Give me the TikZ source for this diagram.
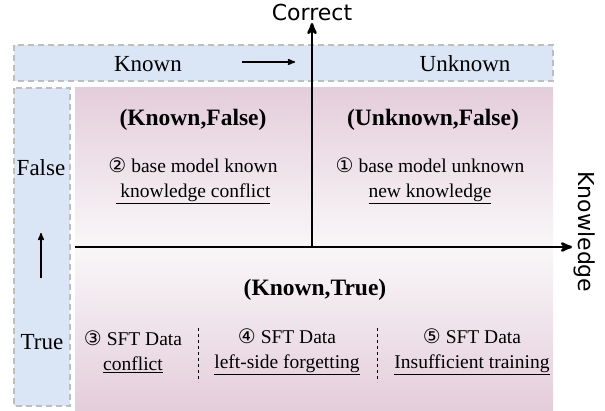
\documentclass[tikz,border=0pt]{standalone}
\usepackage{fontspec}
\setmainfont{Liberation Serif}
\newfontfamily\axisfont{DejaVu Sans}
\newfontfamily\circfont{DejaVu Sans}
\usepackage{tikz}
\usetikzlibrary{arrows}
\usetikzlibrary{positioning}
\usetikzlibrary{calc}
\definecolor{bandblue}{RGB}{218,230,245}
\definecolor{bandgray}{RGB}{190,190,190}
\definecolor{quadpink}{RGB}{228,205,219}
\definecolor{quadwhite}{RGB}{249,247,248}
\newcommand{\circnum}[1]{{\circfont\fontsize{20}{22}\selectfont #1}}

\begin{document}
\begin{tikzpicture}[x=1pt,y=-1pt,>=stealth',
    band/.style={draw=bandgray,fill=bandblue,line width=2.2pt,dash pattern=on 6pt off 4pt},
    axis/.style={->,line width=2.6pt},
    small arrow/.style={->,line width=1.5pt},
    sep/.style={line width=0.9pt,dash pattern=on 3pt off 3pt},
    big label/.style={font=\fontsize{23}{26}\selectfont,inner sep=0pt},
    head label/.style={font=\fontsize{23.5}{26}\selectfont\bfseries,inner sep=0pt},
    desc/.style={font=\fontsize{19.5}{25}\selectfont,align=center,inner sep=0pt},
    axis label/.style={font=\axisfont\fontsize{22}{24}\selectfont,inner sep=0pt}]

  \useasboundingbox (0,0) rectangle (605,410);

  % bands and quadrants
  \draw[band] (14,45) rectangle (553,81);
  \draw[band] (14,88) rectangle (70,406);
  \shade[top color=quadpink,bottom color=quadwhite] (75,87) rectangle (553,247);
  \shade[top color=quadwhite,bottom color=quadpink] (75,247) rectangle (553,410);

  % axes
  \coordinate (origin) at (312,247);
  \coordinate (x start) at (75,247);
  \coordinate (x end) at (572,247);
  \coordinate (y end) at (312,23);
  \draw[axis] (x start) -- (x end);
  \draw[axis] (origin) -- (y end);
  \node[axis label] (correct) at (312,12) {Correct};
  \node[axis label,rotate=-90] (knowledge) at (585,232) {Knowledge};

  % band labels
  \node[big label] (known) at (148,64) {Known};
  \node[big label] (unknown) at (465,64) {Unknown};
  \node[big label] (false) at (41,168) {False};
  \node[big label] (true) at (42,342) {True};
  \coordinate (k from) at (242,62);
  \coordinate (k to) at (295,62);
  \coordinate (t from) at (41,278);
  \coordinate (t to) at (41,233);
  \draw[small arrow] (k from) -- (k to);
  \draw[small arrow] (t from) -- (t to);

  % quadrant titles
  \node[head label] (kf) at (193,120) {(Known,False)};
  \node[head label] (uf) at (433,120) {(Unknown,False)};
  \node[head label] (kt) at (315,290) {(Known,True)};

  \node[desc] (base known) at (193,181) {\circnum{②} base model known\\\underline{\ knowledge conflict}};
  \node[desc] (base unknown) at (430,181) {\circnum{①} base model unknown\\\underline{new knowledge}};

  \node[desc] (sft conflict) at (133,352) {\circnum{③} SFT Data\\\underline{conflict}};
  \node[desc] (sft forget) at (287,352) {\circnum{④} SFT Data\\\underline{left-side forgetting}};
  \node[desc] (sft train) at (472,352) {\circnum{⑤} SFT Data\\\underline{Insufficient training}};

  \coordinate (sep a top) at (198,328);
  \coordinate (sep a bot) at (198,382);
  \coordinate (sep b top) at (377,328);
  \coordinate (sep b bot) at (377,382);
  \draw[sep] (sep a top) -- (sep a bot);
  \draw[sep] (sep b top) -- (sep b bot);
\end{tikzpicture}
\end{document}
